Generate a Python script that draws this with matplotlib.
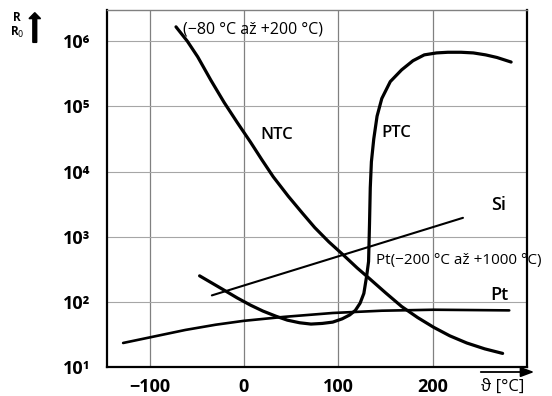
import matplotlib.pyplot as plt
import numpy as np

plt.rcParams['font.family'] = ['Open Sans', 'DejaVu Sans']

# values (temperature in degC, log10 of R/R0)
ntc_t = [-72, -60, -49, -35, -21, -7, 7, 19, 31, 47, 62, 75, 90, 106,
         120, 132, 150, 167, 184, 201, 218, 236, 255, 274]
ntc_log = [6.22, 6.00, 5.76, 5.40, 5.06, 4.75, 4.45, 4.18, 3.92, 3.62,
           3.36, 3.14, 2.92, 2.71, 2.52, 2.37, 2.14, 1.93, 1.76, 1.61,
           1.48, 1.37, 1.28, 1.21]

ptc_t = [-47, -34, -21, -7, 7, 20, 34, 46, 59, 71, 83, 94, 104, 112, 118,
         123, 127, 130, 132, 133, 133.8, 135, 137.5, 141, 146, 155, 167,
         179, 191, 204, 216, 230, 243, 256, 268, 283]
ptc_log = [2.40, 2.29, 2.18, 2.06, 1.95, 1.86, 1.78, 1.72, 1.68, 1.66,
           1.67, 1.69, 1.74, 1.80, 1.87, 1.98, 2.13, 2.40, 2.62, 3.2,
           3.75, 4.15, 4.50, 4.85, 5.12, 5.38, 5.56, 5.70, 5.79, 5.82,
           5.83, 5.83, 5.82, 5.79, 5.75, 5.68]

si_t = [-34, 232]
si_log = [2.10, 3.29]

pt_t = [-128, -95, -62, -30, 0, 42, 94, 146, 201, 281]
pt_log = [1.37, 1.47, 1.57, 1.65, 1.71, 1.77, 1.83, 1.865, 1.88, 1.87]

xticks = [-100, 0, 100, 200]
xtick_labels = ['\u2212100', '0', '100', '200']
yticks = [1e1, 1e2, 1e3, 1e4, 1e5, 1e6]
ytick_labels = ['10¹', '10²', '10³', '10⁴', '10⁵', '10⁶']

fig = plt.figure(figsize=(5.52, 3.96), dpi=100)
ax = fig.add_axes([0.194, 0.073, 0.761, 0.902])

ax.set_yscale('log')
ax.set_xlim(-145, 300)
ax.set_ylim(10, 10**6.48)

ax.plot(ntc_t, 10**np.array(ntc_log), color='black', lw=2.3,
        solid_capstyle='round', solid_joinstyle='round')
ax.plot(ptc_t, 10**np.array(ptc_log), color='black', lw=2.3,
        solid_capstyle='round', solid_joinstyle='round')
ax.plot(si_t, 10**np.array(si_log), color='black', lw=1.5,
        solid_capstyle='round')
ax.plot(pt_t, 10**np.array(pt_log), color='black', lw=1.9,
        solid_capstyle='round', solid_joinstyle='round')

for t in xticks:
    ax.axvline(t, color='0.5', lw=0.9, zorder=0)
for r in yticks[1:]:
    ax.axhline(r, color='0.65', lw=0.8, zorder=0)

ax.set_xticks(xticks)
ax.set_xticklabels(xtick_labels, fontsize=13, fontweight='bold')
ax.set_yticks(yticks)
ax.set_yticklabels(ytick_labels, fontsize=13, fontweight='bold')
ax.minorticks_off()
ax.tick_params(axis='x', length=0, pad=8)
ax.tick_params(axis='y', length=0, pad=12)

for s in ['left', 'bottom', 'right']:
    ax.spines[s].set_linewidth(1.6)
ax.spines['top'].set_color('0.5')
ax.spines['top'].set_linewidth(1.0)

ax.text(-65, 10**6.18, '(\u221280 °C až +200 °C)', fontsize=11.5, va='center')
ax.text(17, 10**4.56, 'NTC', fontsize=12, fontweight='semibold', va='center')
ax.text(146, 10**4.59, 'PTC', fontsize=12, fontweight='semibold', va='center')
ax.text(262, 10**3.48, 'Si', fontsize=13, fontweight='semibold', va='center')
ax.text(140, 10**2.64, 'Pt(\u2212200 °C až +1000 °C)', fontsize=11,
        va='center', clip_on=False)
ax.text(261, 10**2.10, 'Pt', fontsize=13, fontweight='semibold', va='center')

# axis names with arrows
fig.text(0.031, 0.957, 'R', fontsize=8.5, fontweight='bold', ha='center', va='center')
fig.text(0.031, 0.917, 'R$_0$', fontsize=8.5, fontweight='bold', ha='center', va='center')
fig.patches.append(plt.Arrow(0.063, 0.893, 0, 0.075, width=0.035,
                             transform=fig.transFigure, color='black'))
ax.annotate('', xy=(537, 24), xytext=(478, 24), xycoords='figure pixels',
            arrowprops=dict(arrowstyle='-|>,head_length=0.8,head_width=0.3',
                            color='black', lw=1.3))
fig.text(0.911, 0.022, 'ϑ [°C]', fontsize=12, ha='center', va='center')

fig.savefig('out.png', dpi=100)
